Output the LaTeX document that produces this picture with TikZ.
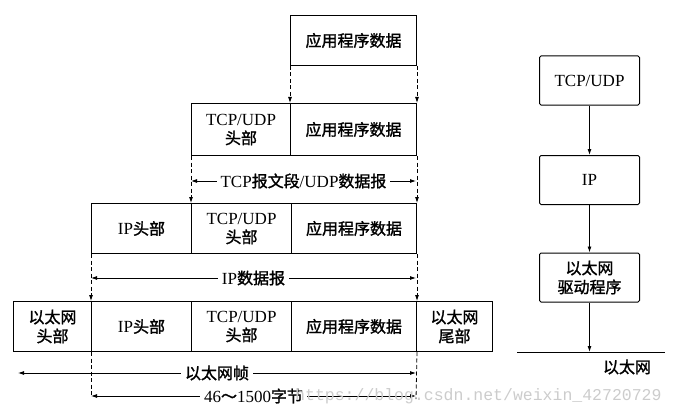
\documentclass[tikz,border=0pt]{standalone}
\usepackage{fontspec}
\setmainfont{Liberation Serif}
\newfontfamily\cjk{Noto Sans CJK SC}[Scale=0.94,FakeBold=1.5]
\newfontfamily\wmfont{Liberation Mono}
\usetikzlibrary{arrows.meta,calc}
\newcommand{\zh}[1]{{\cjk #1}}
\begin{document}
\begin{tikzpicture}[x=1pt,y=-1pt,
  txt/.style={font=\fontsize{17}{19}\selectfont},
  cell/.style={draw, line width=1pt, anchor=north west, inner sep=0pt,
    align=center, minimum height=50pt, txt},
  rbox/.style={draw, line width=1pt, rounded corners=1.5pt, inner sep=0pt,
    align=center, minimum width=100pt, minimum height=49pt, txt},
  tip/.style={-{Latex[length=6pt,width=4pt]}},
  dashline/.style={line width=0.8pt, dash pattern=on 4pt off 2.5pt},
  dasharrow/.style={dashline, tip},
  span/.style={line width=0.8pt, {Latex[length=6pt,width=4pt]}-{Latex[length=6pt,width=4pt]}},
  lbl/.style={fill=white, inner xsep=4pt, inner ysep=1pt, txt},
  arr/.style={line width=0.9pt, tip}
]
\useasboundingbox (0,0) rectangle (676,417);

% row 1
\node[cell, minimum width=126pt] (a) at (290,15) {\zh{应用程序数据}};
% row 2
\node[cell, minimum width=99pt, minimum height=52pt] (r2a) at (191,103) {TCP/UDP\\\zh{头部}};
\node[cell, minimum width=126pt, minimum height=52pt] (r2b) at (290,103) {\zh{应用程序数据}};
% row 3
\node[cell, minimum width=100pt] (r3a) at (91,203) {IP\zh{头部}};
\node[cell, minimum width=100pt] (r3b) at (191,203) {TCP/UDP\\\zh{头部}};
\node[cell, minimum width=125pt] (r3c) at (291,203) {\zh{应用程序数据}};
% row 4
\node[cell, minimum width=78pt] (r4a) at (13,301) {\zh{以太网}\\\zh{头部}};
\node[cell, minimum width=100pt] (r4b) at (91,301) {IP\zh{头部}};
\node[cell, minimum width=100pt] (r4c) at (191,301) {TCP/UDP\\\zh{头部}};
\node[cell, minimum width=125pt] (r4d) at (291,301) {\zh{应用程序数据}};
\node[cell, minimum width=76pt] (r4e) at (416,301) {\zh{以太网}\\\zh{尾部}};

% dashed connectors
\draw[dasharrow] (a.south west) -- (r2b.north west);
\draw[dasharrow] (a.south east) -- (r2b.north east);
\draw[dasharrow] (r2a.south west) -- (r3b.north west);
\draw[dasharrow] (r2b.south east) -- (r3c.north east);
\draw[dasharrow] (r3a.south west) -- (r4b.north west);
\draw[dasharrow] (r3c.south east) -- (r4d.north east);
\coordinate (bl) at (91,397);
\coordinate (br) at (416,399);
\draw[dashline] (r4b.south west) -- (bl);
\draw[dashline] (r4d.south east) -- (br);

% spans
\coordinate (s1l) at (191,181); \coordinate (s1r) at (416,181);
\draw[span] (s1l) -- node[lbl] (l1) {TCP\zh{报文段}/UDP\zh{数据报}} (s1r);
\coordinate (s2l) at (91,278); \coordinate (s2r) at (416,278);
\draw[span] (s2l) -- node[lbl] (l2) {IP\zh{数据报}} (s2r);
\coordinate (s3l) at (18,373); \coordinate (s3r) at (416,373);
\draw[span] (s3l) -- node[lbl] (l3) {\zh{以太网帧}} (s3r);
\coordinate (s4l) at (91,396); \coordinate (s4r) at (416,396);
\draw[span] (s4l) -- node[lbl] (l4) {46\zh{～}1500\zh{字节}} (s4r);

% right stack
\node[rbox] (t) at (589.5,80.5) {TCP/UDP};
\node[rbox] (ip) at (589.5,180) {IP};
\node[rbox] (drv) at (589.5,277.5) {\zh{以太网}\\\zh{驱动程序}};
\coordinate (eth) at (589.5,352);
\coordinate (el) at (517,352);
\coordinate (er) at (665,352);
\draw[arr] (t) -- (ip);
\draw[arr] (ip) -- (drv);
\draw[arr] (drv) -- (eth);
\draw[line width=1pt] (el) -- (er);
\node[txt] (ethl) at (627,367) {\zh{以太网}};

% watermark
\node[anchor=west, inner sep=0pt, text=gray!40, font=\wmfont\fontsize{16.5}{18}\selectfont] (wm) at (295,396) {https://blog.csdn.net/weixin\_42720729};
\end{tikzpicture}
\end{document}
